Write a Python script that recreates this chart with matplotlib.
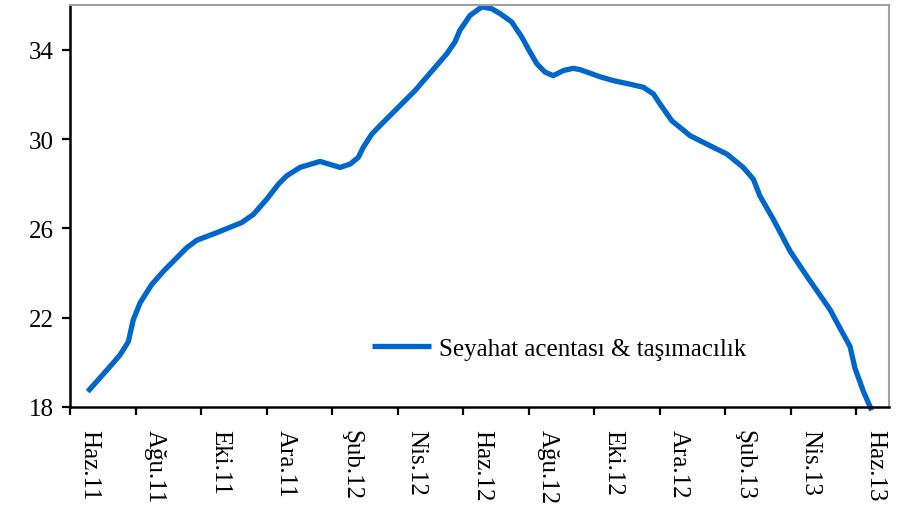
import matplotlib
matplotlib.use("Agg")
import matplotlib.pyplot as plt
import matplotlib.transforms as mtransforms

# months counted from Haz.11 (June 2011)
months = [0.54, 1.22, 1.53, 1.78, 1.93, 2.14, 2.49, 2.85, 3.56, 3.87,
          4.48, 5.24, 5.60, 6.00, 6.36, 6.61, 7.02, 7.63, 8.24, 8.55,
          8.80, 8.95, 9.21, 9.46, 10.53, 11.50, 11.75, 11.90, 12.21, 12.57,
          12.87, 13.13, 13.48, 13.79, 14.04, 14.25, 14.50, 14.75, 15.06, 15.36,
          15.57, 16.18, 16.58, 17.15, 17.50, 17.81, 18.01, 18.37, 18.93, 19.54,
          20.05, 20.55, 20.86, 21.06, 21.47, 21.98, 22.49, 23.20, 23.50, 23.81,
          23.96, 24.22, 24.47]
values = [18.69, 19.81, 20.34, 20.93, 21.91, 22.67, 23.48, 24.08, 25.13, 25.47,
          25.81, 26.26, 26.63, 27.30, 27.98, 28.35, 28.73, 29.00, 28.73, 28.88,
          29.18, 29.63, 30.22, 30.60, 32.17, 33.82, 34.35, 34.87, 35.54, 35.92,
          35.84, 35.62, 35.25, 34.57, 33.90, 33.37, 33.00, 32.84, 33.07, 33.17,
          33.11, 32.79, 32.62, 32.44, 32.32, 32.02, 31.57, 30.82, 30.15, 29.70,
          29.33, 28.73, 28.20, 27.45, 26.40, 24.98, 23.86, 22.36, 21.54, 20.71,
          19.74, 18.69, 17.85]

tick_months = [0, 2, 4, 6, 8, 10, 12, 14, 16, 18, 20, 22, 24]
tick_labels = ["Haz.11", "Ağu.11", "Eki.11", "Ara.11", "Şub.12", "Nis.12", "Haz.12",
               "Ağu.12", "Eki.12", "Ara.12", "Şub.13", "Nis.13", "Haz.13"]
y_ticks = [18, 22, 26, 30, 34]
series_name = "Seyahat acentası & taşımacılık"

plt.rcParams["font.family"] = ["Liberation Serif", "DejaVu Serif"]

fig = plt.figure(figsize=(8.98, 5.10), dpi=100)
ax = fig.add_axes([0.078, 0.2, 0.912, 0.788])

ax.plot(months, values, color="#0066CC", linewidth=3.8,
        solid_capstyle="butt", label=series_name, clip_on=False)

ax.set_xlim(0, 25)
ax.set_ylim(18, 36)
ax.set_yticks(y_ticks)
ax.set_xticks(tick_months)
ax.set_xticklabels(tick_labels, rotation=270, ha="center", va="top")
ax.tick_params(axis="both", direction="out", length=6, width=1.6,
               labelsize=18, color="black")
ax.tick_params(axis="x", pad=10)
ax.tick_params(axis="y", pad=6)

shift = mtransforms.ScaledTranslation(0.19, 0, fig.dpi_scale_trans)
for label in ax.get_xticklabels():
    label.set_transform(label.get_transform() + shift)

for side in ("left", "bottom"):
    ax.spines[side].set_linewidth(1.8)
    ax.spines[side].set_color("black")
for side in ("top", "right"):
    ax.spines[side].set_linewidth(1.5)
    ax.spines[side].set_color("#A0A0A0")

ax.legend(loc="center left", bbox_to_anchor=(0.357, 0.146), frameon=False,
          fontsize=18, handlelength=2.36, handletextpad=0.3,
          borderaxespad=0)

fig.savefig("out.png", dpi=100)
